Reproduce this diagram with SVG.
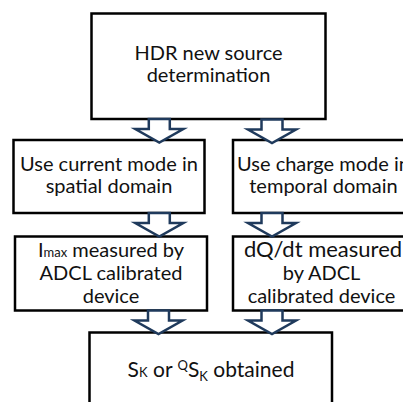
<svg xmlns="http://www.w3.org/2000/svg" xmlns:xlink="http://www.w3.org/1999/xlink" width="403" height="402" viewBox="0 0 403 402">
  <style>
    .box { fill: #ffffff; stroke: #000000; stroke-width: 2.5; }
    .lbl { font-family: Lato, "Open Sans", "Liberation Sans", sans-serif; font-size: 20px; fill: #111111; text-anchor: middle; }
    .small { font-size: 13px; }
    .big { font-size: 22px; }
    .flow { fill: #ffffff; stroke: #1f3a5c; stroke-width: 2.5; stroke-linejoin: miter; }
  </style>
  <defs>
    <!-- block arrow, origin at top centre of shaft -->
    <path id="blockArrow" d="M -10.5 0 V 10 H -24 L 0 23.5 L 24 10 H 10.5 V 0 Z"/>
  </defs>
  <rect width="403" height="402" fill="#ffffff"/>

  <g id="hdr-source">
    <rect class="box" x="91.5" y="13.5" width="234" height="105.5"/>
    <text class="lbl" x="208.5" y="60">HDR new source</text>
    <text class="lbl" x="208.5" y="82">determination</text>
  </g>

  <g id="current-mode">
    <rect class="box" x="13.5" y="140" width="191" height="73"/>
    <text class="lbl" x="109" y="170.5">Use current mode in</text>
    <text class="lbl" x="109" y="192.5">spatial domain</text>
  </g>

  <g id="charge-mode">
    <rect class="box" x="233" y="140" width="185" height="73"/>
    <text class="lbl" x="323.5" y="170.5">Use charge mode in</text>
    <text class="lbl" x="323.5" y="192.5">temporal domain</text>
  </g>

  <g id="imax-measured">
    <rect class="box" x="15" y="236.5" width="192" height="74"/>
    <text class="lbl" x="111" y="256.5">I<tspan class="small">max</tspan> measured by</text>
    <text class="lbl" x="111" y="280">ADCL calibrated</text>
    <text class="lbl" x="111" y="303">device</text>
  </g>

  <g id="dqdt-measured">
    <rect class="box" x="233" y="236.5" width="185" height="74"/>
    <text class="lbl big" x="323" y="257">dQ/dt measured</text>
    <text class="lbl" x="321.5" y="280">by ADCL</text>
    <text class="lbl" x="321.5" y="303">calibrated device</text>
  </g>

  <g id="sk-obtained">
    <rect class="box" x="89.5" y="332.5" width="242.5" height="80"/>
    <text class="lbl" x="211" y="377" style="font-size:21px">S<tspan class="small">K</tspan> or <tspan class="small" dy="-7">Q</tspan><tspan dy="7">S</tspan><tspan class="small" dy="4">K</tspan><tspan dy="-4"> obtained</tspan></text>
  </g>

  <g id="connectors">
    <use class="flow" xlink:href="#blockArrow" transform="translate(159.3,119)"/>
    <use class="flow" xlink:href="#blockArrow" transform="translate(272,119.5)"/>
    <use class="flow" xlink:href="#blockArrow" transform="translate(159.3,213)"/>
    <use class="flow" xlink:href="#blockArrow" transform="translate(272,213)"/>
    <use class="flow" xlink:href="#blockArrow" transform="translate(158.5,310.5)"/>
    <use class="flow" xlink:href="#blockArrow" transform="translate(272,310.5)"/>
  </g>
</svg>
